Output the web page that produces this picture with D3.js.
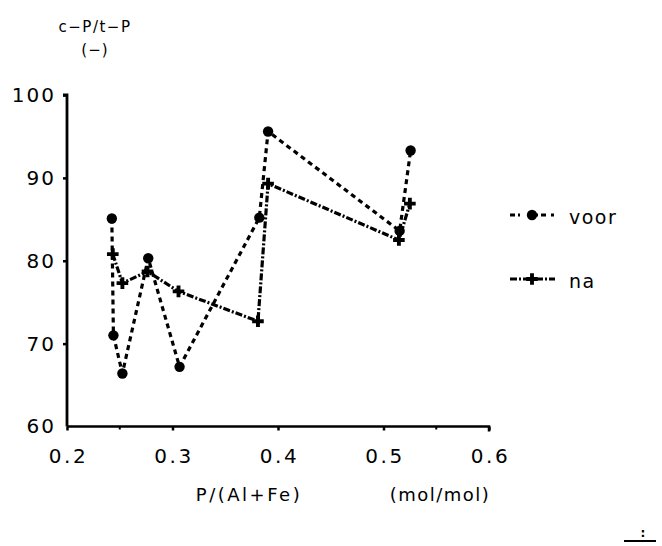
<!DOCTYPE html>
<html>
<head>
<meta charset="utf-8">
<script src="https://cdn.jsdelivr.net/npm/d3@7"></script>
<style>
  html, body { margin: 0; padding: 0; background: #fff; }
  svg { display: block; }
  text { font-family: "DejaVu Sans", sans-serif; fill: #000; }
</style>
</head>
<body>
<script>
// ---- data ----
const voorX = [0.2425, 0.244, 0.2525, 0.277, 0.3067, 0.3823, 0.3906, 0.5153, 0.5257];
const voorY = [85.1, 71.0, 66.4, 80.3, 67.2, 85.2, 95.6, 83.6, 93.3];
const naX = [0.2434, 0.2525, 0.2763, 0.3057, 0.381, 0.3906, 0.5146, 0.525];
const naY = [80.8, 77.3, 78.7, 76.3, 72.7, 89.3, 82.5, 86.9];
const xTickValues = [0.2, 0.3, 0.4, 0.5, 0.6];
const xMinorTicks = [0.25, 0.55];
const yTickValues = [60, 70, 80, 90, 100];
const seriesNames = ["voor", "na"];

const W = 662, H = 546;
const svg = d3.select("body").append("svg").attr("width", W).attr("height", H);

const x = d3.scaleLinear().domain([0.2, 0.6]).range([67, 489]);
const y = d3.scaleLinear().domain([60, 100]).range([426.5, 95]);

// axes
const xAxis = svg.append("g").attr("transform", `translate(0,${y(60)})`)
  .call(d3.axisBottom(x).tickValues(xTickValues).tickSize(4).tickPadding(18).tickFormat(d3.format(".1f")));
xAxis.select(".domain").attr("stroke-width", 2.5).attr("d", `M${x(0.2)},0H${x(0.6)}V5`);
xAxis.selectAll(".tick line").attr("stroke-width", 2.5);
xAxis.selectAll(".tick text").style("font-size", "20px").style("letter-spacing", "2.5px")
  .attr("dx", "1px");
xAxis.selectAll(".minor").data(xMinorTicks).enter().append("line")
  .attr("x1", d => x(d)).attr("x2", d => x(d)).attr("y1", 0).attr("y2", 3)
  .attr("stroke", "#000").attr("stroke-width", 2);

const yAxis = svg.append("g").attr("transform", `translate(${x(0.2)},0)`)
  .call(d3.axisLeft(y).tickValues(yTickValues).tickSize(4).tickPadding(7));
yAxis.select(".domain").attr("stroke-width", 2.8).attr("d", `M-4,${y(100)}H0V${y(60)}`);
yAxis.selectAll(".tick line").attr("stroke-width", 2.5);
yAxis.selectAll(".tick").filter(d => d === 60).select("line").remove();
yAxis.selectAll(".tick text").style("font-size", "20px").style("letter-spacing", "2px");

// axis titles
svg.append("text").attr("x", 95).attr("y", 32).attr("text-anchor", "middle")
  .style("font-size", "15px").style("letter-spacing", "1.5px").text("c\u2212P/t\u2212P");
svg.append("text").attr("x", 95).attr("y", 55).attr("text-anchor", "middle")
  .style("font-size", "15px").style("letter-spacing", "1px").text("(\u2212)");
svg.append("text").attr("x", 249).attr("y", 501).attr("text-anchor", "middle")
  .style("font-size", "18px").style("letter-spacing", "2.5px").text("P/(Al+Fe)");
svg.append("text").attr("x", 440).attr("y", 501).attr("text-anchor", "middle")
  .style("font-size", "18px").style("letter-spacing", "1.5px").text("(mol/mol)");

// series
const voor = voorX.map((v, i) => [v, voorY[i]]);
const na = naX.map((v, i) => [v, naY[i]]);
const line = d3.line().x(d => x(d[0])).y(d => y(d[1]));

svg.append("path").datum(voor).attr("d", line).attr("fill", "none")
  .attr("stroke", "#000").attr("stroke-width", 3.2).attr("stroke-dasharray", "5,4");
svg.append("path").datum(na).attr("d", line).attr("fill", "none")
  .attr("stroke", "#000").attr("stroke-width", 3.2).attr("stroke-dasharray", "7,2,2,2");

svg.selectAll(".voorPt").data(voor).enter().append("circle")
  .attr("cx", d => x(d[0])).attr("cy", d => y(d[1])).attr("r", 5.2).attr("fill", "#000");

const plus = d3.symbol().type(d3.symbolCross).size(75);
svg.selectAll(".naPt").data(na).enter().append("path")
  .attr("d", plus)
  .attr("transform", d => `translate(${x(d[0])},${y(d[1])})`).attr("fill", "#000");

// legend
const legY = [215, 279];
const lg = svg.append("g");
seriesNames.forEach((name, i) => {
  const g = lg.append("g").attr("transform", `translate(0,${legY[i]})`);
  g.append("line").attr("x1", 510).attr("x2", 555).attr("y1", 0).attr("y2", 0)
    .attr("stroke", "#000").attr("stroke-width", 3)
    .attr("stroke-dasharray", i === 0 ? "5,3,2,3,0,10,5,3,5" : "7,2,2,2");
  if (i === 0) {
    g.append("circle").attr("cx", 532).attr("cy", 0).attr("r", 5.2).attr("fill", "#000");
  } else {
    g.append("path").attr("d", plus).attr("transform", "translate(532,0)").attr("fill", "#000");
  }
  g.append("text").attr("x", 569).attr("y", 9).style("font-size", "19px")
    .style("letter-spacing", "1.5px").text(name);
});

// small mark at bottom right
svg.append("text").attr("x", 643).attr("y", 537).attr("text-anchor", "middle")
  .style("font-size", "12px").style("font-weight", "bold").text(":");
svg.append("line").attr("x1", 624).attr("x2", 656).attr("y1", 541).attr("y2", 541)
  .attr("stroke", "#000").attr("stroke-width", 2);
</script>
</body>
</html>
